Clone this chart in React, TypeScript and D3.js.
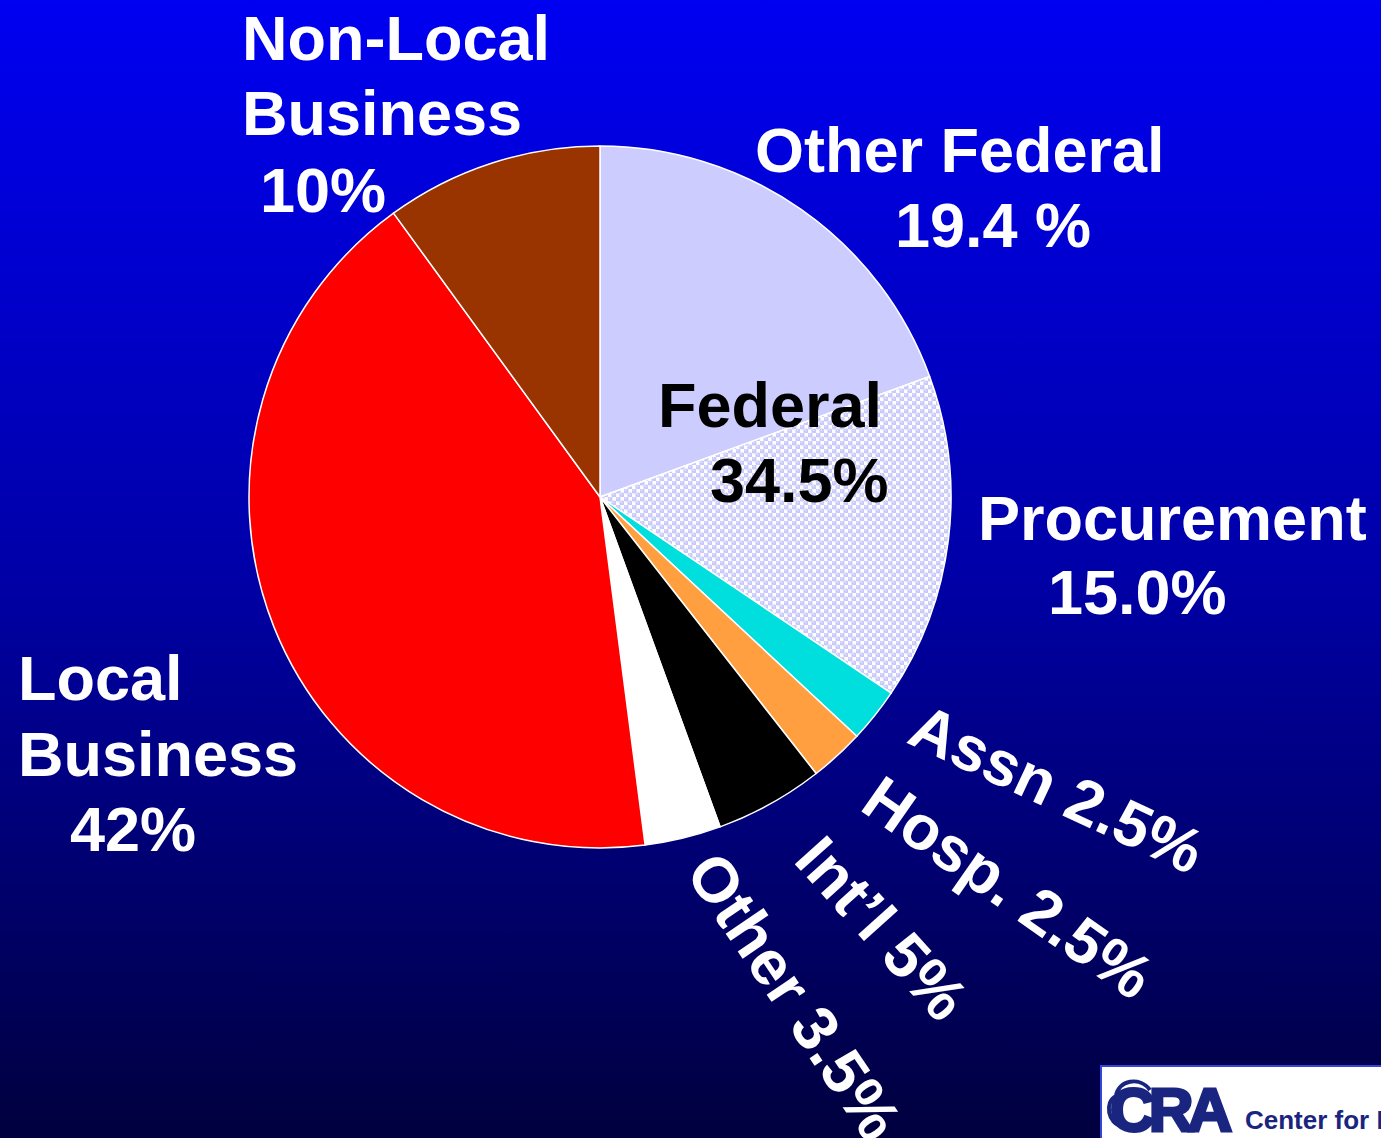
import React from "react";
import * as d3 from "d3";

const categories = ["Other Federal", "Procurement", "Assn", "Hosp.", "Int'l", "Other", "Local Business", "Non-Local Business"];
const values = [19.4, 15.0, 2.5, 2.5, 5, 3.5, 42, 10];
const sliceColors = ["#ccccff", "url(#procPattern)", "#00dede", "#ff9f40", "#000000", "#ffffff", "#ff0000", "#993300"];

// straight labels: lines of text
const otherFedLines = ["Other Federal", "19.4 %"];
const procurementLines = ["Procurement", "15.0%"];
const localLines = ["Local", "Business", "42%"];
const nonLocalLines = ["Non-Local", "Business", "10%"];
const federalLines = ["Federal", "34.5%"];
const rotatedLabels = ["Assn 2.5%", "Hosp. 2.5%", "Int\u2019l 5%", "Other 3.5%"];
const logoMark = "CRA";
const logoText = "Center for International Research";

const W = 1381;
const H = 1138;
const cx = 600;
const cy = 497;
const R = 351;
const FONT = "'Liberation Sans', Arial, Helvetica, sans-serif";
const FS = 63;

export default function App() {
  const pie = d3.pie<number>().sort(null).value((d) => d);
  const arcs = pie(values);
  const arcGen = d3.arc<d3.PieArcDatum<number>>().innerRadius(0).outerRadius(R);

  const blocks = [
    { lines: otherFedLines, xs: [755, 895], ys: [172, 247], fill: "#fff" },
    { lines: procurementLines, xs: [978, 1048], ys: [540, 614], fill: "#fff" },
    { lines: localLines, xs: [18, 18, 70], ys: [700, 776, 851], fill: "#fff" },
    { lines: nonLocalLines, xs: [242, 242, 260], ys: [60, 135, 212], fill: "#fff" },
    { lines: federalLines, xs: [658, 710], ys: [427, 502], fill: "#000" },
  ];
  const rotLayout = [
    { x: 905, y: 742, r: 25 },
    { x: 858, y: 809, r: 35 },
    { x: 792, y: 861, r: 48 },
    { x: 684, y: 872, r: 56 },
  ];

  return (
    <svg width={W} height={H} style={{ position: "absolute", left: 0, top: 0, display: "block" }}>
      <defs>
        <linearGradient id="bg" x1="0" y1="0" x2="0" y2="1">
          <stop offset="0" stopColor="#0000f2" />
          <stop offset="0.5" stopColor="#0000a8" />
          <stop offset="1" stopColor="#00003e" />
        </linearGradient>
        <pattern id="procPattern" patternUnits="userSpaceOnUse" width="8" height="8">
          <rect width="8" height="8" fill="#ffffff" />
          <circle cx="2" cy="2" r="2.6" fill="#c8c8fa" />
          <circle cx="6" cy="6" r="2.6" fill="#c8c8fa" />
          <circle cx="1.6" cy="1.3" r="1" fill="#e0e0ff" />
          <circle cx="5.6" cy="5.3" r="1" fill="#e0e0ff" />
        </pattern>
      </defs>
      <rect width={W} height={H} fill="url(#bg)" />
      <g transform={`translate(${cx},${cy})`}>
        {arcs.map((a, i) => (
          <path key={categories[i]} d={arcGen(a) || ""} fill={sliceColors[i]} stroke="#ffffff" strokeWidth={1.5} strokeLinejoin="round" />
        ))}
      </g>
      <g fontFamily={FONT} fontWeight="bold" fontSize={FS}>
        {blocks.map((b, bi) =>
          b.lines.map((t, li) => (
            <text key={`${bi}-${li}`} x={b.xs[li]} y={b.ys[li]} fill={b.fill}>
              {t}
            </text>
          ))
        )}
        {rotatedLabels.map((t, i) => (
          <text key={t} transform={`translate(${rotLayout[i].x},${rotLayout[i].y}) rotate(${rotLayout[i].r})`} fill="#fff">
            {t}
          </text>
        ))}
      </g>
      <g>
        <rect x={1101} y={1066} width={290} height={80} fill="#ffffff" stroke="#3344dd" strokeWidth={2} />
        <path d="M1150,1090 C1140,1076 1118,1080 1116,1096 C1104,1102 1108,1124 1122,1126" fill="none" stroke="#1a2580" strokeWidth={4} />
        <text x={1110} y={1131} fontFamily={FONT} fontWeight="bold" fontSize={62} fill="#1a2580" stroke="#1a2580" strokeWidth={3} letterSpacing={-6}>
          {logoMark}
        </text>
        <text x={1245} y={1129} fontFamily={FONT} fontWeight="bold" fontSize={26} fill="#1a2580">
          {logoText}
        </text>
      </g>
    </svg>
  );
}
